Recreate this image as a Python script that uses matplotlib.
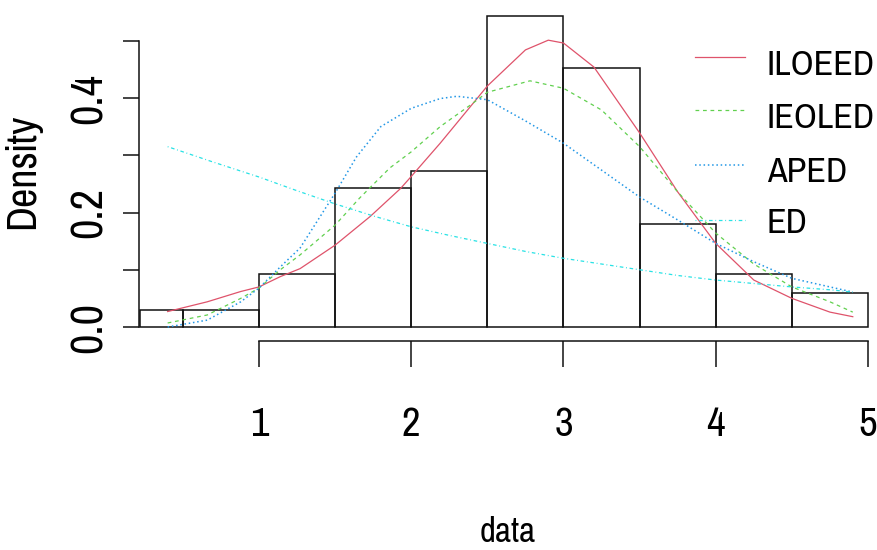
import matplotlib
matplotlib.use("Agg")
import matplotlib.pyplot as plt
from matplotlib import font_manager as fm
from matplotlib.textpath import TextPath
from matplotlib.lines import Line2D
import numpy as np

# ---------------- data ----------------
bin_edges = [0.22, 0.5, 1.0, 1.5, 2.0, 2.5, 3.0, 3.5, 4.0, 4.5, 5.0]
bin_density = [0.029, 0.029, 0.092, 0.242, 0.272, 0.543, 0.452, 0.180, 0.092, 0.059]

x_iloeed = [0.4, 0.66, 0.88, 1.0, 1.14, 1.27, 1.5, 1.73, 1.93, 2.0, 2.19, 2.5, 2.75, 2.9, 3.0, 3.2, 3.5, 3.75, 4.0, 4.25, 4.5, 4.75, 4.9]
y_iloeed = [0.027, 0.044, 0.062, 0.070, 0.088, 0.102, 0.143, 0.193, 0.242, 0.263, 0.321, 0.421, 0.484, 0.501, 0.496, 0.454, 0.339, 0.236, 0.146, 0.082, 0.050, 0.026, 0.018]

x_ieoled = [0.4, 0.66, 0.88, 1.0, 1.14, 1.27, 1.5, 1.66, 1.86, 2.0, 2.19, 2.39, 2.5, 2.78, 3.0, 3.25, 3.5, 3.75, 4.0, 4.25, 4.5, 4.75, 4.9]
y_ieoled = [0.007, 0.021, 0.050, 0.068, 0.100, 0.126, 0.178, 0.225, 0.278, 0.306, 0.350, 0.388, 0.410, 0.430, 0.417, 0.379, 0.315, 0.236, 0.164, 0.110, 0.070, 0.044, 0.026]

x_aped = [0.4, 0.66, 0.88, 1.0, 1.14, 1.27, 1.5, 1.64, 1.8, 2.0, 2.19, 2.3, 2.5, 2.75, 3.0, 3.25, 3.5, 3.75, 4.0, 4.25, 4.5, 4.75, 4.9]
y_aped = [0.000, 0.012, 0.044, 0.068, 0.105, 0.138, 0.234, 0.297, 0.350, 0.382, 0.399, 0.403, 0.397, 0.360, 0.321, 0.274, 0.227, 0.187, 0.146, 0.114, 0.085, 0.070, 0.061]

x_ed = [0.4, 0.7, 1.0, 1.25, 1.5, 1.75, 2.0, 2.25, 2.5, 2.75, 3.0, 3.25, 3.5, 3.75, 4.0, 4.25, 4.5, 4.75, 4.9]
y_ed = [0.315, 0.288, 0.262, 0.238, 0.215, 0.194, 0.175, 0.160, 0.146, 0.132, 0.120, 0.110, 0.100, 0.090, 0.082, 0.076, 0.070, 0.065, 0.061]

series_names = ['ILOEED', 'IEOLED', 'APED', 'ED']
x_ticks = [1, 2, 3, 4, 5]
y_ticks = [0.0, 0.1, 0.2, 0.3, 0.4, 0.5]
y_ticklabels = ['0.0', '', '0.2', '', '0.4', '']
x_label = 'data'
y_label = 'Density'

colors = ['#DF536B', '#61D04F', '#2297E6', '#28E2E5']
styles = ['-', (0, (3, 3)), (0, (1, 1.8)), (0, (0.72, 2.16, 2.88, 2.16))]
widths = [0.9, 0.9, 1.1, 0.9]

# ---------------- font choice ----------------
available = {f.name for f in fm.fontManager.ttflist}
font = 'Liberation Sans'
for cand in ['Liberation Sans Narrow', 'Arial Narrow', 'Nimbus Sans Narrow', 'Pragati Narrow',
             'Archivo Narrow', 'Roboto Condensed', 'PT Sans Narrow', 'Liberation Sans']:
    if cand in available:
        font = cand
        break
plt.rcParams['font.family'] = [font, 'DejaVu Sans']
fp = fm.FontProperties(family=font)


def ink(s):
    e = TextPath((0, 0), s, size=1, prop=fp).get_extents()
    return e.width, e.height, e.y0, e.y1


def fit(s, tw, th, a=0.5, wmax=None):
    w1, h1, _, _ = ink(s)
    size = np.exp(a * np.log(tw / w1) + (1 - a) * np.log(th / h1))
    if wmax is not None:
        size = min(size, wmax / w1)
    return size  # px


PT = 0.72  # pt per px at 100 dpi
l_top = ink('l')[3]
p_desc = -ink('p')[2]

W, H = 878, 550
fig = plt.figure(figsize=(W / 100, H / 100), dpi=100)


def fx(px):
    return px / W


def fy(py):
    return 1 - py / H


ax_l, ax_r, ax_t, ax_b = 100, 878, 10, 420
ax = fig.add_axes([fx(ax_l), fy(ax_b), (ax_r - ax_l) / W, (ax_b - ax_t) / H])
px_per_x = 152.25
px_per_y = 572.5
ax.set_xlim(1 + (ax_l - 259) / px_per_x, 1 + (ax_r - 259) / px_per_x)
ax.set_ylim((327 - ax_b) / px_per_y, (327 - ax_t) / px_per_y)
ax.patch.set_alpha(0)

edges = np.array(bin_edges)
ax.bar(edges[:-1], bin_density, width=np.diff(edges), align='edge',
       fill=False, edgecolor='#111111', linewidth=1.1, zorder=2)

curves = [(x_iloeed, y_iloeed), (x_ieoled, y_ieoled), (x_aped, y_aped), (x_ed, y_ed)]
for (xs, ys), c, ls, lw, nm in zip(curves, colors, styles, widths, series_names):
    ax.plot(xs, ys, color=c, lw=lw, ls=ls, label=nm, zorder=3)

# ---------------- R-style axes ----------------
for s in ['top', 'right']:
    ax.spines[s].set_visible(False)
ax.spines['left'].set_position(('data', 1 + (139 - 259) / px_per_x))
ax.spines['left'].set_bounds(0, 0.5)
ax.spines['bottom'].set_position(('data', (327 - 341) / px_per_y))
ax.spines['bottom'].set_bounds(1, 5)
for s in ['left', 'bottom']:
    ax.spines[s].set_linewidth(1.1)
    ax.spines[s].set_color('#111111')

# x tick labels
xt_size = fit('2', 14, 31)
dig_top = ink('2')[3]
ax.set_xticks(x_ticks)
ax.set_xticklabels([str(t) for t in x_ticks])
xpad = 407 - 367 - (l_top - dig_top) * xt_size
ax.tick_params(axis='x', length=26 * PT, width=1.1, color='#111111',
               labelsize=xt_size * PT, pad=xpad * PT)

# y tick labels (rotated like R)
yt_size = fit('0.4', 62, 20, a=0.65)
ax.set_yticks(y_ticks)
ax.set_yticklabels(y_ticklabels, rotation=90, va='center')
ypad = 123 - 102 - p_desc * yt_size
ax.tick_params(axis='y', length=16 * PT, width=1.1, color='#111111',
               labelsize=yt_size * PT, pad=ypad * PT)

# axis labels
xl_size = fit(x_label, 50, 28)
ax.set_xlabel(x_label, fontsize=xl_size * PT)
top_px = 541 - l_top * xl_size
ax.xaxis.set_label_coords((508 - ax_l) / (ax_r - ax_l), (ax_b - top_px) / (ax_b - ax_t))

yl_size = fit(y_label, 147, 23, a=0.65)
ax.set_ylabel(y_label, fontsize=yl_size * PT)
right_px = 34 + p_desc * yl_size
ax.yaxis.set_label_coords((right_px - ax_l) / (ax_r - ax_l), (ax_b - 171.5) / (ax_b - ax_t))

# ---------------- legend (R style, no box) ----------------
lg_size = fit('ILOEED', 95, 32, wmax=104)
line_y = [57, 110, 165, 220]
base_y = [75, 128, 182, 233]
for nm, c, ls, lw, ly, by in zip(series_names, colors, styles, widths, line_y, base_y):
    fig.add_artist(Line2D([fx(695), fx(745)], [fy(ly), fy(ly)], color=c, lw=lw, ls=ls,
                          transform=fig.transFigure))
    fig.text(fx(767), fy(by), nm, fontsize=lg_size * PT, ha='left', va='baseline')

fig.savefig('out.png', dpi=100)
